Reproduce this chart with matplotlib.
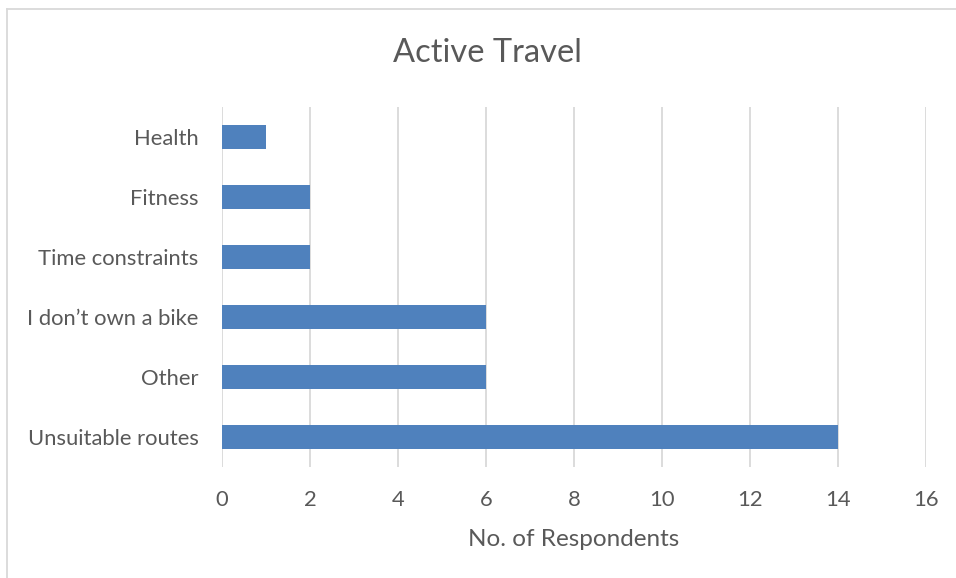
import matplotlib
matplotlib.use("Agg")
import matplotlib.pyplot as plt
from matplotlib.lines import Line2D

categories = ["Unsuitable routes", "Other", "I don\u2019t own a bike", "Time constraints", "Fitness", "Health"]
values = [14, 6, 6, 2, 2, 1]
xticks = [0, 2, 4, 6, 8, 10, 12, 14, 16]

plt.rcParams['font.family'] = ['Lato', 'DejaVu Sans']
text_color = "#595959"
grid_color = "#D9D9D9"
bar_color = "#4F81BD"

fig = plt.figure(figsize=(9.56, 5.78), dpi=100)
ax = fig.add_axes([222/956, 1 - 467/578, (926 - 222)/956, (467 - 107)/578])

y = list(range(len(categories)))
ax.barh(y, values, height=0.4, color=bar_color, zorder=3)
ax.set_ylim(-0.5, len(categories) - 0.5)
ax.set_xlim(0, 16)
ax.set_xticks(xticks)
ax.set_xticklabels([str(t) for t in xticks])
ax.set_yticks(y)
ax.set_yticklabels(categories)
ax.tick_params(axis='both', length=0, colors=text_color, labelsize=15.8)
ax.tick_params(axis='x', pad=16.5)
ax.tick_params(axis='y', pad=17)
for s in ax.spines.values():
    s.set_visible(False)
ax.xaxis.grid(True, color=grid_color, linewidth=1.3, zorder=0)
ax.yaxis.grid(False)
ax.set_xlabel("No. of Respondents", color=text_color, fontsize=17.5, labelpad=14)
fig.text(487/956, 1 - 53/578, "Active Travel", ha='center', va='center', color=text_color, fontsize=23.5)

# chart-area border (left and top visible)
fig.add_artist(Line2D([7/956, 7/956], [0, 1 - 9/578], transform=fig.transFigure, color=grid_color, linewidth=1.3))
fig.add_artist(Line2D([7/956, 1], [1 - 9/578, 1 - 9/578], transform=fig.transFigure, color=grid_color, linewidth=1.3))

fig.savefig("out.png", dpi=100)
